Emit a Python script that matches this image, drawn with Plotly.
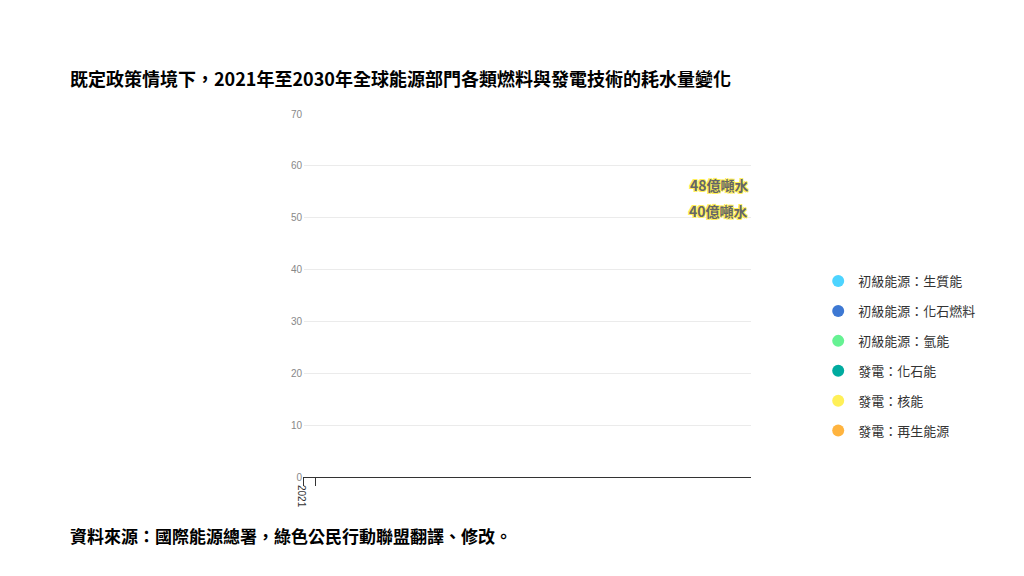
import plotly.graph_objects as go

years = ["2021", "2030"]
series_names = ["初級能源：生質能", "初級能源：化石燃料", "初級能源：氫能",
                "發電：化石能", "發電：核能", "發電：再生能源"]
series_values = [
    [17.5, 22.9],
    [18.7, 18.5],
    [1.8, 2.1],
    [11.1, 10.2],
    [4.3, 5.1],
    [0.7, 2.7],
]
colors = ["#4dd4ff", "#3d78d3", "#66f293", "#00ab9f", "#fff058", "#ffb43f"]
labels = ["40億噸水", "48億噸水"]
label_y = [51.2, 56.4]

fig = go.Figure()
for name, vals, c in zip(series_names, series_values, colors):
    fig.add_trace(go.Bar(x=years, y=vals, marker=dict(color=c, line=dict(color="white", width=1)),
                         width=0.48, showlegend=False, name=name))
# legend entries with round markers
for name, c in zip(series_names, colors):
    fig.add_trace(go.Scatter(x=[None], y=[None], mode="markers", name=name, legendgroup=name,
                             marker=dict(color=c, size=13, symbol="circle")))

for yr, lab, ly in zip(years, labels, label_y):
    fig.add_annotation(x=yr, y=ly, text=lab, showarrow=False, xshift=54, xanchor="left",
                       font=dict(family="Noto Sans CJK TC", size=14, color="#666",
                                 weight="bold",
                                 shadow="1px 1px 0 #fff058, -1px -1px 0 #fff058, 1px -1px 0 #fff058, -1px 1px 0 #fff058"))
fig.add_annotation(x=-0.525, y=1.099, xref="paper", yref="paper", xanchor="left", yanchor="middle",
                   showarrow=False,
                   text="<b>既定政策情境下，2021年至2030年全球能源部門各類燃料與發電技術的耗水量變化</b>",
                   font=dict(family="Noto Sans CJK TC", size=18, color="black"))
fig.add_annotation(x=-0.525, y=-0.16, xref="paper", yref="paper", xanchor="left", yanchor="middle",
                   showarrow=False,
                   text="<b>資料來源：國際能源總署，綠色公民行動聯盟翻譯、修改。</b>",
                   font=dict(family="Noto Sans CJK TC", size=17, color="black"))

fig.update_layout(
    barmode="stack", width=1024, height=576, plot_bgcolor="white", paper_bgcolor="white",
    margin=dict(l=295, r=281, t=106, b=107),
    font=dict(family="Arial, Liberation Sans", size=10, color="#555"),
    legend=dict(x=1.15, y=0.333, yanchor="middle", traceorder="reversed+grouped",
                font=dict(family="Noto Sans CJK TC", size=13, color="#333"),
                itemsizing="constant", tracegroupgap=10),
)
fig.update_yaxes(range=[0, 70], dtick=10, gridcolor="#ebebeb", zeroline=False,
                 tickfont=dict(color="#888"), ticks="", showline=False)
fig.update_xaxes(type="category", showline=True, linecolor="#333", ticks="outside", tickcolor="#333",
                 tickson="boundaries", ticklen=8, tickfont=dict(color="#333"))
fig.write_html("out.html")
